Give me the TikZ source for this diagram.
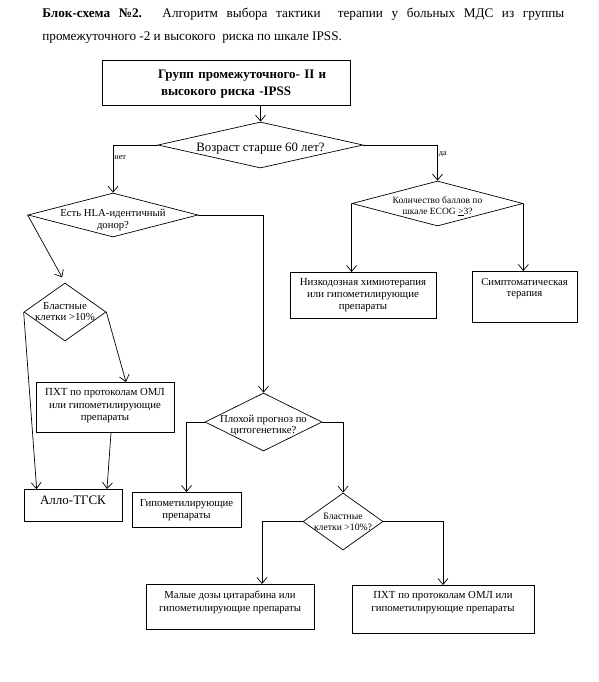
\documentclass[tikz,border=0pt]{standalone}
\usepackage{fontspec}
\setmainfont{Liberation Serif}
\usetikzlibrary{arrows.meta,positioning,shapes.geometric}

\begin{document}
\begin{tikzpicture}[x=1pt,y=-1pt,
line width=0.7pt,
box/.style={draw,align=center,inner xsep=2pt,inner ysep=0pt,anchor=north,font=\fontsize{10.8}{12}\selectfont},
dec/.style={draw,diamond,inner sep=-6pt,align=center,font=\fontsize{10.7}{11.5}\selectfont},
lbl/.style={font=\fontsize{8.3}{9}\selectfont,anchor=west,inner sep=1pt},
t/.style={-{Straight Barb[length=6pt,width=10pt]}}
]
\useasboundingbox (0,0) rectangle (599,682);

% heading
\node[font=\fontsize{13.2}{23}\selectfont,text width=522pt,align=justify,anchor=base west,inner sep=0pt] (title) at (42,18)
  {\textbf{Блок-схема №2.} Алгоритм выбора тактики \ терапии у больных МДС из группы\linebreak промежуточного -2 и высокого \ риска по шкале IPSS.};

\node[box,align=left,text width=240pt,inner xsep=4pt,text height=18.5pt,text depth=26.5pt,font=\bfseries\fontsize{13}{17}\selectfont] (grp) at (226,60)
  {\hspace*{52pt}Групп промежуточного- II и\\\hspace*{55pt}высокого риска -IPSS};

% decisions
\node[dec,minimum width=205pt,minimum height=46pt,aspect=4.4,text height=15.5pt,font=\fontsize{12.8}{14}\selectfont] (age) at (260.5,145) {Возраст старше 60 лет?};
\node[dec,minimum width=171pt,minimum height=45pt,aspect=3.8,text height=23pt,font=\fontsize{9.5}{11}\selectfont] (ecog) at (437.5,203.5) {Количество баллов по\\шкале ECOG \underline{>}3?};
\node[dec,minimum width=170pt,minimum height=44pt,aspect=3.9,inner sep=-8pt,text height=30pt,font=\fontsize{10.7}{12}\selectfont] (hla) at (113,215) {Есть HLA-идентичный\\донор?};
\node[dec,minimum width=82pt,minimum height=58pt,aspect=1.4,font=\fontsize{10.8}{11}\selectfont] (blast1) at (65,312) {Бластные\\клетки >10\%};
\node[dec,minimum width=117pt,minimum height=58pt,aspect=2,text height=25.5pt] (poor) at (263.5,422) {Плохой прогноз по\\цитогенетике?};
\node[dec,minimum width=80pt,minimum height=57pt,aspect=1.4,font=\fontsize{9.7}{11}\selectfont] (blast2) at (343,521.5) {Бластные\\клетки >10\%?};

% outcomes
\node[box,minimum width=146pt,text height=37.5pt,text depth=8.5pt] (nizko) at (363,272) {Низкодозная химиотерапия\\или гипометилирующие\\препараты};
\node[box,minimum width=105pt,text height=25.5pt,text depth=25.5pt,font=\fontsize{10.7}{11}\selectfont] (symp) at (524.5,271) {Симптоматическая\\терапия};
\node[box,minimum width=138pt,text height=38.5pt,text depth=11.5pt,font=\fontsize{10.8}{12.5}\selectfont] (pxt1) at (105,382) {ПХТ по протоколам ОМЛ\\или гипометилирующие\\препараты};
\node[box,minimum width=98pt,text height=15.5pt,text depth=16.5pt,font=\fontsize{13}{15}\selectfont] (allo) at (73,489) {Алло-ТГСК};
\node[box,minimum width=109pt,text height=26.5pt,text depth=8.5pt] (hypo) at (186.5,492) {Гипометилирующие\\препараты};
\node[box,minimum width=168pt,text height=27.5pt,text depth=17.5pt,font=\fontsize{10.7}{13}\selectfont] (malye) at (230,584) {Малые дозы цитарабина или\\гипометилирующие препараты};
\node[box,minimum width=182pt,text height=26.5pt,text depth=21.5pt,font=\fontsize{10.8}{13}\selectfont] (pxt2) at (443,585) {ПХТ по протоколам ОМЛ или\\гипометилирующие препараты};

% connectors
\draw[t] (grp.south -| age.north) -- (age.north);
\draw[t] (age.west) -| node[lbl,pos=0.63]{нет} (hla.north);
\draw[t] (age.east) -| node[lbl,pos=0.63]{да} (ecog.north);
\draw[t] (ecog.west) -- (ecog.west |- nizko.north);
\draw[t] (ecog.east) -- (ecog.east |- symp.north);
\draw[t,shorten >=6pt] (hla.west) -- (blast1.north);
\draw[t] (hla.east) -| (poor.north);
\draw[t] (blast1.west) -- ([xshift=13pt]allo.north west);
\draw[t] (blast1.east) -- ([xshift=21pt]pxt1.north);
\draw[t] ([xshift=6pt]pxt1.south) -- ([xshift=34pt]allo.north);
\draw[t] (poor.west) -| (hypo.north);
\draw[t] (poor.east) -| (blast2.north);
\draw[t] (blast2.west) -| ([xshift=32pt]malye.north);
\draw[t] (blast2.east) -| (pxt2.north);
\end{tikzpicture}
\end{document}
